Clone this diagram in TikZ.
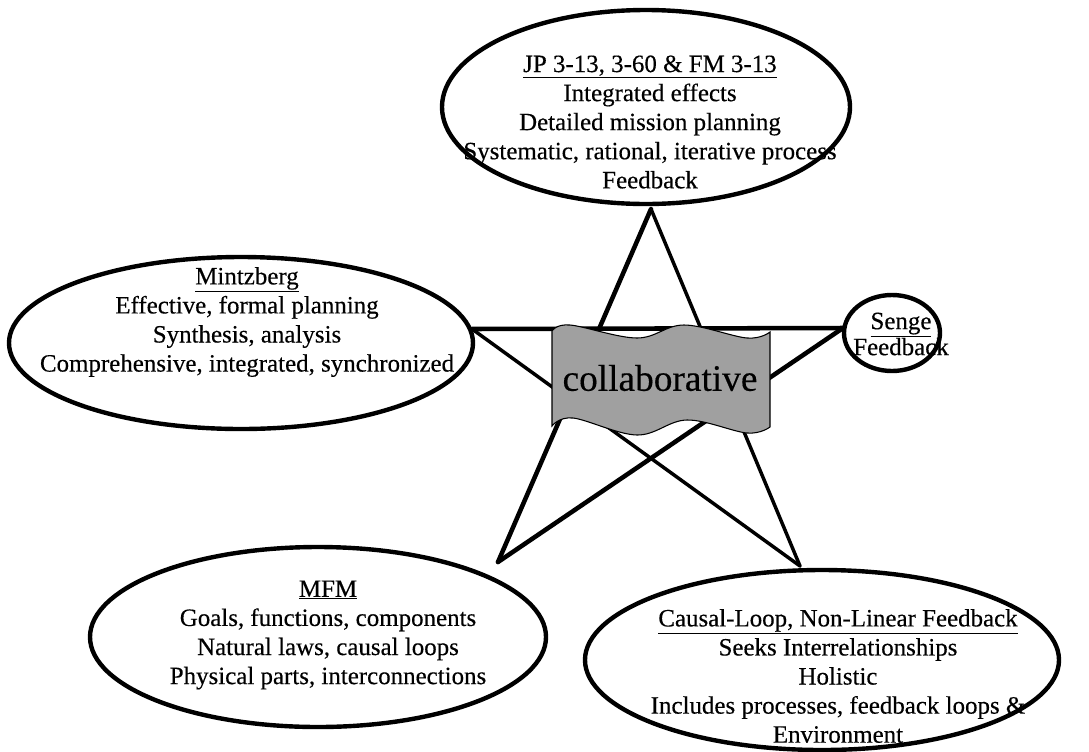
\documentclass[tikz,border=0pt]{standalone}
\usepackage{fontspec}
\setmainfont{Liberation Serif}[FakeBold=0.35]
\usetikzlibrary{shapes.geometric}
\definecolor{docgray}{RGB}{160,160,160}
\begin{document}
\begin{tikzpicture}[x=0.75pt,y=-0.75pt,
  bubble/.style={ellipse, draw, line width=3.3pt, fill=white, inner sep=0pt},
  bubbletext/.style={align=center, inner sep=0pt, font=\fontsize{18.7}{21.8}\selectfont},
  starthick/.style={line width=3.4pt, line cap=round},
  starthin/.style={line width=2.6pt, line cap=round},
  tape/.style={draw=black, line width=0.8pt, fill=docgray}]
\useasboundingbox (0,0) rectangle (1089,751);

% five points of the star
\coordinate (sT)  at (651,209);
\coordinate (sL)  at (472,329);
\coordinate (sR)  at (843,328);
\coordinate (sBL) at (498,562);
\coordinate (sBR) at (800,566);

\draw[starthick] (sL) -- (sR);
\draw[starthick] (sT) -- (sBL);
\draw[starthin]  (sT) -- (sBR);
\draw[starthick] (sR) -- (sBL);
\draw[starthin]  (sL) -- (sBR);

% ellipses at the star points
\node[bubble, minimum width=306pt, minimum height=145.5pt] (jp) at (646,107) {};
\node[bubble, minimum width=348pt, minimum height=129pt] (mintz) at (241,343) {};
\node[bubble, minimum width=72pt, minimum height=57pt] (senge) at (892,333) {};
\node[bubble, minimum width=342pt, minimum height=135pt] (mfm) at (318,637) {};
\node[bubble, minimum width=355.5pt, minimum height=135pt] (causal) at (822,660) {};

\node[bubbletext] (jptext) at (650,122)
  {\underline{JP 3-13, 3-60 \& FM 3-13}\\Integrated effects\\Detailed mission planning\\Systematic, rational, iterative process\\Feedback};
\node[bubbletext] (mintztext) at (247,322)
  {\underline{Mintzberg}\\Effective, formal planning\\Synthesis, analysis\\Comprehensive, integrated, synchronized};
\node[bubbletext, font=\fontsize{18.7}{19.5}\selectfont] (sengetext) at (901,334)
  {\underline{Senge}\\Feedback};
\node[bubbletext] (mfmtext) at (328,635)
  {\underline{MFM}\\Goals, functions, components\\Natural laws, causal loops\\Physical parts, interconnections};
\node[bubbletext] (causaltext) at (838,676)
  {\underline{Causal-Loop, Non-Linear Feedback}\\Seeks Interrelationships\\Holistic\\Includes processes, feedback loops \&\\Environment};

% wavy tape in the middle of the star
\draw[tape] plot[smooth, tension=0.6] coordinates {(552,331) (570,325) (637,338) (684,325) (747,338) (770,332)}
  -- plot[smooth, tension=0.6] coordinates {(770,427) (747,433) (687,420) (637,435) (573,418) (552,426)}
  -- cycle;
\node[inner sep=0pt, font=\fontsize{28}{32}\selectfont] (centre) at (660,378) {collaborative};
\end{tikzpicture}
\end{document}
